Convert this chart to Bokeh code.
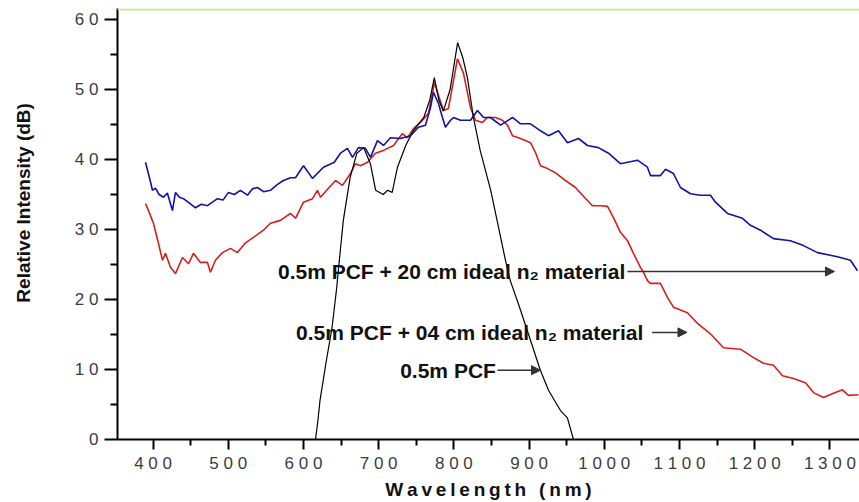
from bokeh.plotting import figure
from bokeh.models import Range1d, FixedTicker, Label, Arrow, NormalHead, Span
from bokeh.embed import file_html
from bokeh.resources import INLINE

# ---------------- data ----------------
x_ticks = [400, 500, 600, 700, 800, 900, 1000, 1100, 1200, 1300]
x_minor = [350, 450, 550, 650, 750, 850, 950, 1050, 1150, 1250, 1350]
y_ticks = [0, 10, 20, 30, 40, 50, 60]
y_minor = [5, 15, 25, 35, 45, 55]

x_title = "Wavelength (nm)"
y_title = "Relative Intensity (dB)"

# 0.5m PCF + 20 cm ideal n2 material (blue)
blue_nm = [389.9, 395, 399.2, 403.2, 408, 413.8, 419, 425.8, 429.8, 435, 440.4, 448,
           456.4, 464, 472.3, 479, 485.6, 493, 500.3, 508, 516.2, 525.5, 532, 538.8,
           547, 556.1, 565, 573.4, 582.7, 589.4, 600, 612, 626.6, 641, 649.2, 658.5,
           665.2, 673.1, 682.4, 689.1, 698.4, 706.4, 715.7, 729, 742.3, 752.9, 762.2,
           768.9, 772.9, 779.5, 784.8, 788.8, 795.5, 799.5, 808.8, 822.1, 831.4, 839.4,
           848.7, 862, 878, 888.6, 901.9, 915.2, 925.8, 939.1, 951.1, 965.7, 977.7,
           992.3, 1005.6, 1021.5, 1044.1, 1057.4, 1061.4, 1074.7, 1081.4, 1092, 1101.3,
           1114.6, 1127.9, 1141.2, 1147.9, 1163.8, 1183.8, 1194.4, 1207.7, 1225, 1247.6,
           1264.9, 1283.5, 1310.1, 1327.4, 1336.7]
blue_db = [39.6, 37.5, 35.6, 35.9, 35.0, 34.6, 35.2, 32.7, 35.3, 34.6, 34.4, 33.8,
           33.1, 33.6, 33.4, 33.9, 34.4, 34.2, 35.3, 35.0, 35.6, 34.9, 35.8, 36.0,
           35.4, 35.6, 36.4, 37.0, 37.4, 37.4, 39.1, 37.3, 38.9, 39.6, 40.9, 41.6,
           40.3, 41.7, 41.6, 40.3, 42.7, 42.0, 43.1, 43.0, 43.4, 44.6, 44.9,
           47.4, 49.6, 48.0, 46.0, 44.6, 45.6, 46.0, 45.6, 45.6, 47.0, 46.0,
           46.0, 44.9, 46.0, 45.1, 45.1, 44.1, 43.4, 44.1, 42.4, 43.0, 42.0,
           41.7, 40.9, 39.4, 39.9, 38.9, 37.7, 37.7, 38.6, 38.0, 36.0,
           35.1, 34.9, 34.9, 33.9, 32.3, 31.6, 30.6, 29.9, 28.7, 28.4,
           27.7, 26.7, 26.1, 25.6, 24.1]

# 0.5m PCF + 04 cm ideal n2 material (red)
red_nm = [389.9, 393.9, 400.5, 407.2, 412.5, 416.5, 423.1, 429.8, 439.1, 447.1, 453.7,
          463, 472.3, 476.3, 482.9, 492.3, 502.9, 512.2, 522.9, 536.2, 546.8, 556.1,
          569.4, 582.7, 589.4, 600, 612, 618.6, 622.6, 633.2, 642.6, 651.9, 662.5,
          669.1, 675.8, 685.1, 695.7, 706.4, 719.7, 731.6, 738.3, 746.3, 758.2, 766.2,
          774.2, 780, 786.2, 792.8, 804.8, 812.8, 822.1, 828.7, 838, 844.7, 855.3,
          864.6, 871.3, 877.9, 885.9, 895.2, 901.9, 908.5, 915.2, 924.5, 935.1, 948.4,
          961.7, 971, 984.3, 994.9, 1004.3, 1012.2, 1021.5, 1030.9, 1038.8, 1048.1,
          1052.1, 1057.4, 1061.4, 1074.7, 1084, 1092, 1110.6, 1123.9, 1141.2, 1158.5,
          1181.1, 1198.4, 1211.7, 1225, 1237, 1251.6, 1267.6, 1278.2, 1291.5, 1304.8,
          1316.8, 1324.7, 1338]
red_db = [33.7, 32.7, 30.9, 28.0, 25.6, 26.6, 24.6, 23.7, 26.0, 25.1, 26.6,
          25.3, 25.3, 23.9, 25.6, 26.7, 27.3, 26.7, 28.1, 29.1, 29.9, 30.9,
          31.3, 32.3, 31.6, 33.9, 34.4, 35.6, 34.6, 35.9, 37.0, 36.3, 38.0,
          39.4, 39.1, 39.6, 40.9, 41.3, 42.0, 43.7, 43.1, 44.4, 45.6, 46.6,
          51.0, 49.0, 47.0, 47.3, 54.4, 52.3, 47.4, 45.6, 45.3, 46.0, 46.0,
          45.6, 44.9, 43.4, 43.1, 42.7, 42.4, 41.0, 39.1, 38.7, 38.1, 37.0,
          36.0, 34.9, 33.4, 33.4, 33.3, 31.7, 29.6, 28.4, 26.6, 24.6,
          23.9, 22.7, 22.3, 22.3, 20.3, 18.9, 18.1, 16.6, 15.1, 13.1,
          12.9, 11.7, 10.9, 10.6, 9.1, 8.7, 8.1, 6.7, 6.0, 6.6,
          7.1, 6.3, 6.4]

# 0.5m PCF (black)
black_nm = [616, 619, 622, 630, 638, 644, 649, 653, 662, 671, 680, 689, 696, 706, 712,
            718, 725, 736, 746, 760, 768, 774, 780, 786, 795, 805, 812, 818, 826, 835,
            849, 858, 868.6, 875, 887, 899, 915, 926, 942, 951, 959]
black_db = [0.0, 2.5, 5.6, 11.0, 16.0, 21.5, 27.0, 31.3, 37.4, 40.9, 41.7, 39.4, 35.6,
            35.0, 35.6, 35.3, 38.9, 42.0, 44.1, 46.0, 48.5, 51.7, 48.5, 46.9, 50.0,
            56.7, 54.5, 51.7, 46.0, 41.3, 35.6, 31.0, 25.6, 22.7, 19.0, 15.1, 9.9,
            7.0, 4.1, 3.1, 0.0]

labels = ["0.5m PCF + 20 cm ideal n\u2082 material",
          "0.5m PCF + 04 cm ideal n\u2082 material",
          "0.5m PCF"]
label_x = [566.1, 590.2, 728.6]
label_y = [24.0, 15.3, 9.9]
arrow_x0 = [1030.9, 1063.6, 858.0]
arrow_x1 = [1306.1, 1110.0, 915.2]
arrow_y = [24.0, 15.3, 9.9]

# ---------------- figure ----------------
FONT = "Liberation Sans"
p = figure(width=859, height=502, output_backend="svg", toolbar_location=None,
           x_range=Range1d(352.7, 1339.4), y_range=Range1d(0, 61.57),
           min_border_left=117, min_border_right=0, min_border_top=8,
           min_border_bottom=63)
p.outline_line_color = None
p.grid.visible = False

for ax in (p.xaxis, p.yaxis):
    ax.axis_line_width = 2
    ax.axis_line_color = "black"
    ax.major_tick_line_width = 2
    ax.minor_tick_line_width = 2
    ax.major_tick_in = 0
    ax.minor_tick_in = 0
    ax.major_label_text_font = FONT
    ax.major_label_text_font_size = "17px"
    ax.major_label_text_color = "#3c3c3c"
    ax.axis_label_text_font = FONT
    ax.axis_label_text_font_style = "bold"
    ax.axis_label_text_font_size = "19px"
    ax.axis_label_text_color = "#111111"

p.xaxis.ticker = FixedTicker(ticks=x_ticks, minor_ticks=x_minor)
p.xaxis.major_label_overrides = {t: " ".join(str(t)) for t in x_ticks}
p.xaxis.major_tick_out = 10
p.xaxis.minor_tick_out = 6
p.xaxis.major_label_standoff = 4
p.xaxis.axis_label = "\u2009".join(x_title)
p.xaxis.axis_label_standoff = 3

p.yaxis.ticker = FixedTicker(ticks=y_ticks, minor_ticks=y_minor)
p.yaxis.major_label_overrides = {t: " ".join(str(t)) for t in y_ticks}
p.yaxis.major_tick_out = 13
p.yaxis.minor_tick_out = 7
p.yaxis.major_label_standoff = 6
# leading no-break spaces lift the centred title to where the original sits
p.yaxis.axis_label = "\u00a0" * 8 + y_title
p.yaxis.axis_label_standoff = 38

p.add_layout(Span(location=61.43, dimension="width", line_color="#b8f090",
                  line_width=2))

p.line(red_nm, red_db, line_color="#d81e1e", line_width=1.6)
p.line(blue_nm, blue_db, line_color="#1212a8", line_width=1.6)
p.line(black_nm, black_db, line_color="black", line_width=1.2)

for t, lx, ly in zip(labels, label_x, label_y):
    p.add_layout(Label(x=lx, y=ly, text=t, text_align="left", text_baseline="middle",
                       text_font=FONT, text_font_style="bold",
                       text_font_size="21px", text_color="#111111"))

for x0, x1, ay in zip(arrow_x0, arrow_x1, arrow_y):
    p.add_layout(Arrow(end=NormalHead(size=9, fill_color="#333333",
                                      line_color="#333333"),
                       x_start=x0, y_start=ay, x_end=x1, y_end=ay,
                       line_color="#333333", line_width=1.5))

open("out.html", "w").write(file_html(p, INLINE))
